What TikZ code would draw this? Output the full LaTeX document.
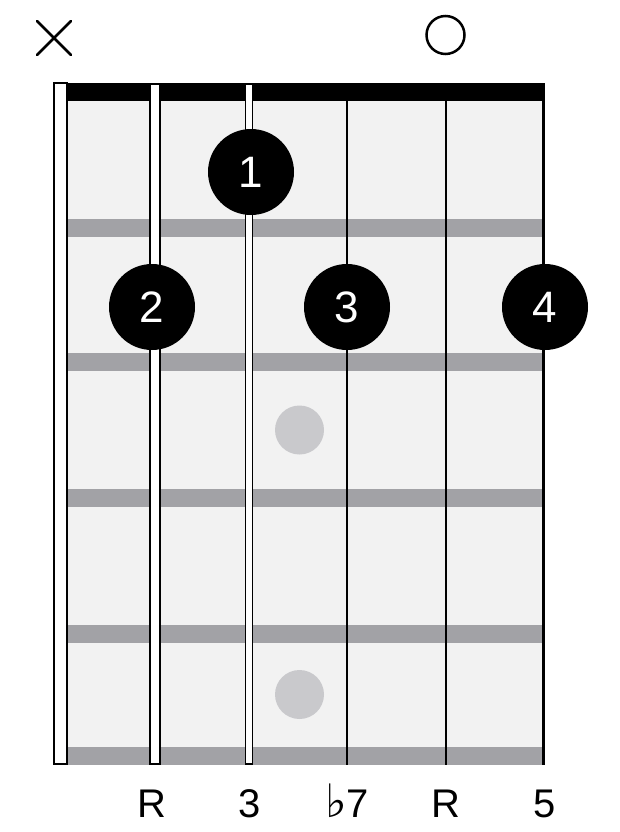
\documentclass[tikz,border=0pt]{standalone}
\usepackage{fontspec}
\setmainfont{Liberation Sans}
\newfontfamily\symfont{DejaVu Sans}
\definecolor{board}{HTML}{F2F2F2}
\definecolor{fretc}{HTML}{A2A2A6}
\definecolor{inlay}{HTML}{C9C9CC}
\begin{document}
\begin{tikzpicture}[x=1pt,y=-1pt,
 finger/.style={circle,fill=black,minimum size=86pt,inner sep=0pt,text=white,font=\fontsize{44}{44}\selectfont},
 lbl/.style={anchor=base,inner sep=0pt,font=\fontsize{40}{40}\selectfont},
 fretbar/.style={fill=fretc},
 wound/.style={draw=black,fill=white,line width=1.8pt},
 plainstr/.style={draw=black,line width=2.6pt},
 marker/.style={draw=black,line width=2.5pt,line cap=round}]
\useasboundingbox[fill=white] (0,0) rectangle (619,832);
% board
\fill[board] (68,100) rectangle (544,765);
\foreach \y in {219,353,489,625,747} \fill[fretbar] (68,\y) rectangle (544,\y+18);
% nut
\fill[black] (68,83) rectangle (545,101);
% inlays
\fill[inlay] (299.5,430) circle[radius=24.5pt];
\fill[inlay] (299.5,694.5) circle[radius=24.5pt];
% wound strings
\draw[wound] (54,83) rectangle (67,764);
\draw[wound] (150,84) rectangle (160,764);
\draw[wound] (245.5,84) rectangle (252.5,764);
% plain strings
\draw[plainstr] (347,90) -- (347,765);
\draw[plainstr] (446,90) -- (446,765);
\draw[plainstr] (543.5,90) -- (543.5,765);
% open / muted markers
\draw[marker] (37,21) -- (71,55) (37,55) -- (71,21);
\draw[marker] (445.5,35) circle[radius=19pt];
% fingers
\node[finger] (f1) at (251,172) {1};
\node[finger] (f2) at (152,307) {2};
\node[finger] (f3) at (347,307) {3};
\node[finger] (f4) at (545,307) {4};
% labels
\node[lbl] (l2) at (152,817) {R};
\node[lbl] (l3) at (250,817) {3};
\node[lbl] (l4) at (347,817) {{\symfont\fontsize{46}{46}\selectfont ♭}\kern-1pt 7};
\node[lbl] (l5) at (446,817) {R};
\node[lbl] (l6) at (545,817) {5};
\end{tikzpicture}
\end{document}
